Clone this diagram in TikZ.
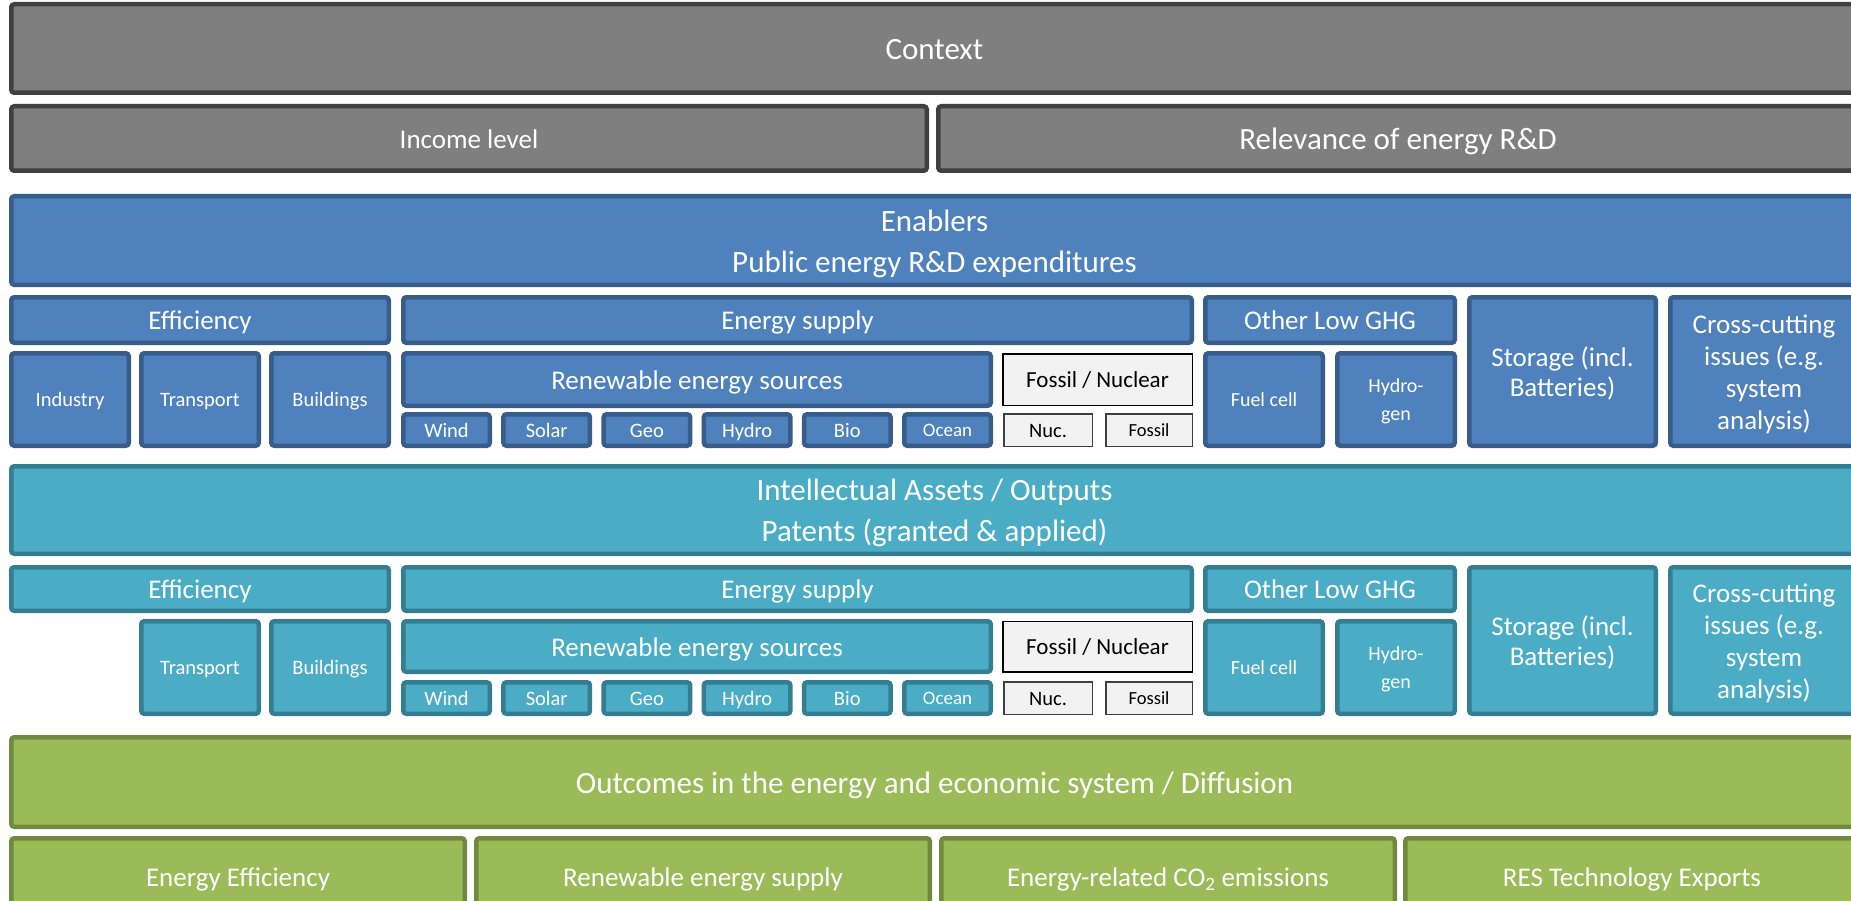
\documentclass[tikz,border=0pt]{standalone}
\usepackage{fontspec}
\setmainfont{Carlito}
\usetikzlibrary{positioning}

\definecolor{ctxfill}{HTML}{7F7F7F}
\definecolor{ctxline}{HTML}{404040}
\definecolor{enfill}{HTML}{4F81BD}
\definecolor{enline}{HTML}{385D8A}
\definecolor{ipfill}{HTML}{4BACC6}
\definecolor{ipline}{HTML}{357D91}
\definecolor{oufill}{HTML}{9BBB59}
\definecolor{ouline}{HTML}{71893F}
\definecolor{fnfill}{HTML}{F2F2F2}

% line box as in the slide text: ascent plus gap, descent
\newcommand\ls{\rule[-0.25em]{0pt}{1.22em}}
% same ascent for the first line of stacked labels
\newcommand\tl{\rule{0pt}{0.97em}}

\tikzset{
  box/.style={draw, line width=4.5pt, rounded corners=3pt, inner sep=0pt, align=center, text=white,
    execute at begin node=\ls, execute at end node=\ls},
  ctxbox/.style={box, fill=ctxfill, draw=ctxline},
  enbox/.style={box, fill=enfill, draw=enline},
  ipbox/.style={box, fill=ipfill, draw=ipline},
  oubox/.style={box, fill=oufill, draw=ouline},
  fnbox/.style={draw=black, line width=1.5pt, fill=fnfill, inner sep=0pt, align=center, text=black,
    execute at begin node=\ls, execute at end node=\ls},
  fbig/.style={font=\fontsize{31}{40}\selectfont},
  fmid/.style={font=\fontsize{27}{31}\selectfont},
  fsml/.style={font=\fontsize{20.5}{28}\selectfont},
}

\begin{document}
\begin{tikzpicture}[x=1pt, y=-1pt]
  \fill[white] (0,0) rectangle (1851,901);
  \useasboundingbox (0,0) rectangle (1851,901);
  \clip (0,0) rectangle (1851,901);

  % context
  \node (ctx) [ctxbox, fbig, anchor=north west, minimum width=1846.5pt, minimum height=88.5pt] at (9,2) {Context};
  \node (inc) [ctxbox, fmid, below=9pt of ctx.south west, anchor=north west, minimum width=915.5pt, minimum height=64.5pt] {Income level};
  \node (rel) [ctxbox, fbig, right=7pt of inc, minimum width=919.5pt, minimum height=64.5pt] {Relevance of energy R\&D};

  % enablers
  \node (enab) [enbox, font=\fontsize{31}{41}\selectfont, below=21pt of inc.south west, anchor=north west, minimum width=1846.5pt, minimum height=88.5pt] {\tl Enablers\\Public energy R\&D expenditures};
  \node (eff) [enbox, fmid, below=8pt of enab.south west, anchor=north west, minimum width=377.5pt, minimum height=45.5pt] {Efficiency};
  \node (sup) [enbox, fmid, right=10pt of eff, minimum width=788.5pt, minimum height=45.5pt] {Energy supply};
  \node (ghg) [enbox, fmid, right=9pt of sup, minimum width=249.5pt, minimum height=45.5pt] {Other Low GHG};
  \node (sto) [enbox, font=\fontsize{27}{30}\selectfont, right=10pt of ghg.north east, anchor=north west, minimum width=186.5pt, minimum height=148.5pt] {\tl Storage (incl.\\Batteries)};
  \node (cross) [enbox, font=\fontsize{27}{32}\selectfont, right=10pt of sto, minimum width=187.5pt, minimum height=148.5pt] {\tl Cross-cutting\\issues (e.g.\\system\\analysis)};

  \node (ind) [enbox, fsml, below=6pt of eff.south west, anchor=north west, minimum width=117.5pt, minimum height=92.5pt] {Industry};
  \node (tra) [enbox, fsml, right=8pt of ind, minimum width=117.5pt, minimum height=92.5pt] {Transport};
  \node (bui) [enbox, fsml, right=8pt of tra, minimum width=117.5pt, minimum height=92.5pt] {Buildings};

  \node (res) [enbox, fmid, below=6pt of sup.south west, anchor=north west, minimum width=587.5pt, minimum height=52.5pt] {Renewable energy sources};
  \node (fn) [fnbox, font=\fontsize{23}{28}\selectfont, right=9pt of res, minimum width=189.5pt, minimum height=51.5pt] {Fossil / Nuclear};

  \node (wind) [enbox, fsml, below=4pt of res.south west, anchor=north west, minimum width=86.5pt, minimum height=31.5pt] {Wind};
  \node (solar) [enbox, fsml, right=9.2pt of wind, minimum width=86.5pt, minimum height=31.5pt] {Solar};
  \node (geo) [enbox, fsml, right=9.2pt of solar, minimum width=86.5pt, minimum height=31.5pt] {Geo};
  \node (hydro) [enbox, fsml, right=9.2pt of geo, minimum width=86.5pt, minimum height=31.5pt] {Hydro};
  \node (bio) [enbox, fsml, right=9.2pt of hydro, minimum width=86.5pt, minimum height=31.5pt] {Bio};
  \node (ocean) [enbox, font=\fontsize{19}{24}\selectfont, right=9.2pt of bio, minimum width=86.5pt, minimum height=31.5pt] {Ocean};
  \node (nuc) [fnbox, draw=black!75, fsml, right=10pt of ocean, minimum width=88.5pt, minimum height=32.5pt] {Nuc.};
  \node (fos) [fnbox, draw=black!75, font=\fontsize{18.5}{24}\selectfont, right=12pt of nuc, minimum width=86.5pt, minimum height=32.5pt] {Fossil};

  \node (fuel) [enbox, font=\fontsize{20}{28}\selectfont, below=6pt of ghg.south west, anchor=north west, minimum width=117.5pt, minimum height=92.5pt] {Fuel cell};
  \node (hyd) [enbox, font=\fontsize{20}{28}\selectfont, right=10pt of fuel, minimum width=117.5pt, minimum height=92.5pt] {\tl Hydro-\\gen};

  % intellectual assets
  \node (ip) [ipbox, font=\fontsize{31}{41}\selectfont, below=16pt of ind.south west, anchor=north west, minimum width=1846.5pt, minimum height=87.5pt] {\tl Intellectual Assets / Outputs\\Patents (granted \& applied)};
  \node (eff2) [ipbox, fmid, below=9pt of ip.south west, anchor=north west, minimum width=377.5pt, minimum height=43.5pt] {Efficiency};
  \node (sup2) [ipbox, fmid, right=10pt of eff2, minimum width=788.5pt, minimum height=43.5pt] {Energy supply};
  \node (ghg2) [ipbox, fmid, right=9pt of sup2, minimum width=249.5pt, minimum height=43.5pt] {Other Low GHG};
  \node (sto2) [ipbox, font=\fontsize{27}{30}\selectfont, right=10pt of ghg2.north east, anchor=north west, minimum width=186.5pt, minimum height=146.5pt] {\tl Storage (incl.\\Batteries)};
  \node (cross2) [ipbox, font=\fontsize{27}{32}\selectfont, right=10pt of sto2, minimum width=187.5pt, minimum height=146.5pt] {\tl Cross-cutting\\issues (e.g.\\system\\analysis)};

  \node (bui2) [ipbox, fsml, below=6pt of eff2.south east, anchor=north east, minimum width=117.5pt, minimum height=92.5pt] {Buildings};
  \node (tra2) [ipbox, fsml, left=8pt of bui2, minimum width=117.5pt, minimum height=92.5pt] {Transport};

  \node (res2) [ipbox, fmid, below=6pt of sup2.south west, anchor=north west, minimum width=587.5pt, minimum height=50.5pt] {Renewable energy sources};
  \node (fn2) [fnbox, font=\fontsize{23}{28}\selectfont, right=9pt of res2, minimum width=189.5pt, minimum height=50.5pt] {Fossil / Nuclear};

  \node (wind2) [ipbox, fsml, below=6pt of res2.south west, anchor=north west, minimum width=86.5pt, minimum height=31.5pt] {Wind};
  \node (solar2) [ipbox, fsml, right=9.2pt of wind2, minimum width=86.5pt, minimum height=31.5pt] {Solar};
  \node (geo2) [ipbox, fsml, right=9.2pt of solar2, minimum width=86.5pt, minimum height=31.5pt] {Geo};
  \node (hydro2) [ipbox, fsml, right=9.2pt of geo2, minimum width=86.5pt, minimum height=31.5pt] {Hydro};
  \node (bio2) [ipbox, fsml, right=9.2pt of hydro2, minimum width=86.5pt, minimum height=31.5pt] {Bio};
  \node (ocean2) [ipbox, font=\fontsize{19}{24}\selectfont, right=9.2pt of bio2, minimum width=86.5pt, minimum height=31.5pt] {Ocean};
  \node (nuc2) [fnbox, draw=black!75, fsml, right=10pt of ocean2, minimum width=88.5pt, minimum height=32.5pt] {Nuc.};
  \node (fos2) [fnbox, draw=black!75, font=\fontsize{18.5}{24}\selectfont, right=12pt of nuc2, minimum width=86.5pt, minimum height=32.5pt] {Fossil};

  \node (fuel2) [ipbox, font=\fontsize{20}{28}\selectfont, below=6pt of ghg2.south west, anchor=north west, minimum width=117.5pt, minimum height=92.5pt] {Fuel cell};
  \node (hyd2) [ipbox, font=\fontsize{20}{28}\selectfont, right=10pt of fuel2, minimum width=117.5pt, minimum height=92.5pt] {\tl Hydro-\\gen};

  % outcomes
  \coordinate (low) at (tra2.south -| ip.west);
  \node (out) [oubox, fbig, below=19pt of low, anchor=north west, minimum width=1846.5pt, minimum height=89.5pt] {Outcomes in the energy and economic system / Diffusion};
  \node (ee) [oubox, fmid, below=7pt of out.south west, anchor=north west, minimum width=453.5pt, minimum height=77.5pt] {Energy Efficiency};
  \node (rs) [oubox, fmid, right=7pt of ee, minimum width=453.5pt, minimum height=77.5pt] {Renewable energy supply};
  \node (co) [oubox, fmid, right=7pt of rs, minimum width=453.5pt, minimum height=77.5pt] {Energy-related CO\textsubscript{2} emissions};
  \node (rt) [oubox, fmid, right=6pt of co, minimum width=453.5pt, minimum height=77.5pt] {RES Technology Exports};
\end{tikzpicture}
\end{document}
